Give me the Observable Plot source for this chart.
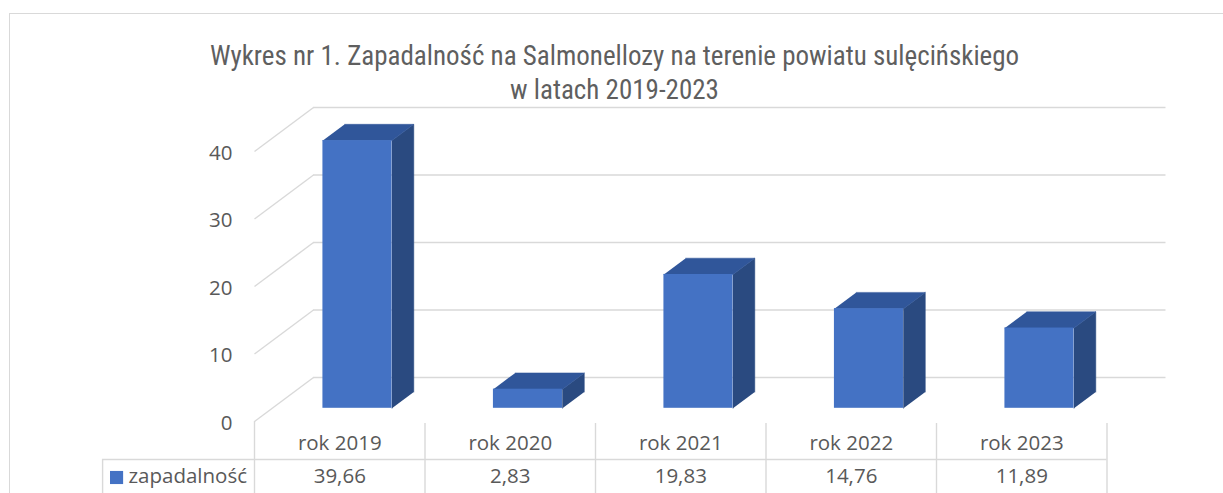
<!DOCTYPE html>
<html>
<head>
<meta charset="utf-8">
<script src="https://cdn.jsdelivr.net/npm/d3@7"></script>
<script src="https://cdn.jsdelivr.net/npm/@observablehq/plot@0.6"></script>
<style>
  html, body { margin: 0; padding: 0; background: #fff; overflow: hidden; width: 1223px; height: 493px; }
  #frame { position: absolute; left: 9px; top: 13px; width: 1230px; height: 500px;
           border-left: 1px solid #d9d9d9; border-top: 1px solid #d9d9d9; }
  #title { position: absolute; left: 3px; top: 39px; width: 1223px; text-align: center;
           font-family: "Liberation Sans Narrow", "Roboto Condensed", "DejaVu Sans Condensed", sans-serif;
           font-size: 27px; line-height: 34px; color: #5f5f5f; }
  #chart { position: absolute; left: 0; top: 0; }
  #chart svg { overflow: visible; }
</style>
</head>
<body>
<div id="frame"></div>
<div id="title">Wykres nr 1. Zapadalność na Salmonellozy na terenie powiatu sulęcińskiego<br>w latach 2019-2023</div>
<div id="chart"></div>
<script>
// ---- data ----
const categories = ["rok 2019", "rok 2020", "rok 2021", "rok 2022", "rok 2023"];
const values = [39.66, 2.83, 19.83, 14.76, 11.89];
const seriesName = "zapadalność";
const yTicks = [0, 10, 20, 30, 40];

// ---- 3D (oblique) layout constants, in scale units ----
const depthX = 0.346;   // floor depth along x (category units)
const depthY = 6.52;    // floor depth along y (value units)
const barW = 0.405;     // bar width in category units (gap width 150%)
const f0 = 0.30;        // bar front position within depth
const fb = 0.37;        // bar depth fraction
const blue = "#4472C4", topCol = "#30569A", sideCol = "#2A4A80";
const grid = "#d9d9d9", textCol = "#595959";

const bars = categories.map((c, i) => {
  const xl = i + (1 - barW) / 2 + f0 * depthX;
  return {i, c, v: values[i], xl, xr: xl + barW, y0: f0 * depthY};
});
const bx = fb * depthX, by = fb * depthY;
const topPts = bars.flatMap(b => [
  {id: b.i, x: b.xl, y: b.v + b.y0},
  {id: b.i, x: b.xr, y: b.v + b.y0},
  {id: b.i, x: b.xr + bx, y: b.v + b.y0 + by},
  {id: b.i, x: b.xl + bx, y: b.v + b.y0 + by}
]);
const sidePts = bars.flatMap(b => [
  {id: b.i, x: b.xr, y: b.y0},
  {id: b.i, x: b.xr, y: b.v + b.y0},
  {id: b.i, x: b.xr + bx, y: b.v + b.y0 + by},
  {id: b.i, x: b.xr + bx, y: b.y0 + by}
]);

const fmt = v => v.toFixed(2).replace(".", ",");
const font = "Open Sans, sans-serif";
const bounds = d3.range(categories.length + 1);

const chart = Plot.plot({
  width: 1223, height: 493,
  marginLeft: 254, marginRight: 116.5, marginTop: 151, marginBottom: 72,
  x: {type: "linear", domain: [0, categories.length], axis: null},
  y: {domain: [0, 40], axis: null},
  style: {fontFamily: font, color: textCol, background: "transparent"},
  marks: [
    // back wall gridlines
    Plot.ruleY(yTicks, {y: t => t + depthY, x1: depthX, x2: categories.length + depthX, stroke: grid, strokeWidth: 1.4}),
    // side wall (left) gridlines
    Plot.link(yTicks, {x1: 0, y1: t => t, x2: depthX, y2: t => t + depthY, stroke: grid, strokeWidth: 1.4}),
    // y axis labels
    Plot.axisY({ticks: yTicks, tickSize: 0, tickPadding: 22, fontSize: 20.5, fill: textCol, anchor: "left", dy: 1.5}),
    // bar faces
    Plot.line(sidePts, {x: "x", y: "y", z: "id", fill: sideCol, stroke: sideCol, strokeWidth: 0.5}),
    Plot.line(topPts, {x: "x", y: "y", z: "id", fill: topCol, stroke: topCol, strokeWidth: 0.5}),
    Plot.rect(bars, {x1: "xl", x2: "xr", y1: "y0", y2: d => d.v + d.y0, fill: blue}),
    // data table
    Plot.ruleX(bounds, {x: d => d, y1: d => d === 0 ? 0 : -0.3, y2: -12, stroke: grid, strokeWidth: 1.4}),
    Plot.ruleY([-5.63], {x1: -0.891, x2: categories.length, stroke: grid, strokeWidth: 1.4}),
    Plot.ruleX([-0.891], {y1: -5.63, y2: -12, stroke: grid, strokeWidth: 1.4}),
    Plot.text(categories, {x: (d, i) => i + 0.5, frameAnchor: "bottom", dy: 28, text: d => d, fontSize: 20.5, fill: textCol}),
    Plot.text(values, {x: (d, i) => i + 0.5, frameAnchor: "bottom", dy: 61.5, text: d => fmt(d), fontSize: 20.5, fill: textCol}),
    // legend key in table
    Plot.dot([seriesName], {x: -0.809, frameAnchor: "bottom", dy: 56, symbol: "square", r: 7.4, fill: blue, stroke: null}),
    Plot.text([seriesName], {x: -0.739, frameAnchor: "bottom", dy: 61.5, text: d => d, textAnchor: "start", fontSize: 20.5, fill: textCol})
  ]
});
document.getElementById("chart").appendChild(chart);
</script>
</body>
</html>
